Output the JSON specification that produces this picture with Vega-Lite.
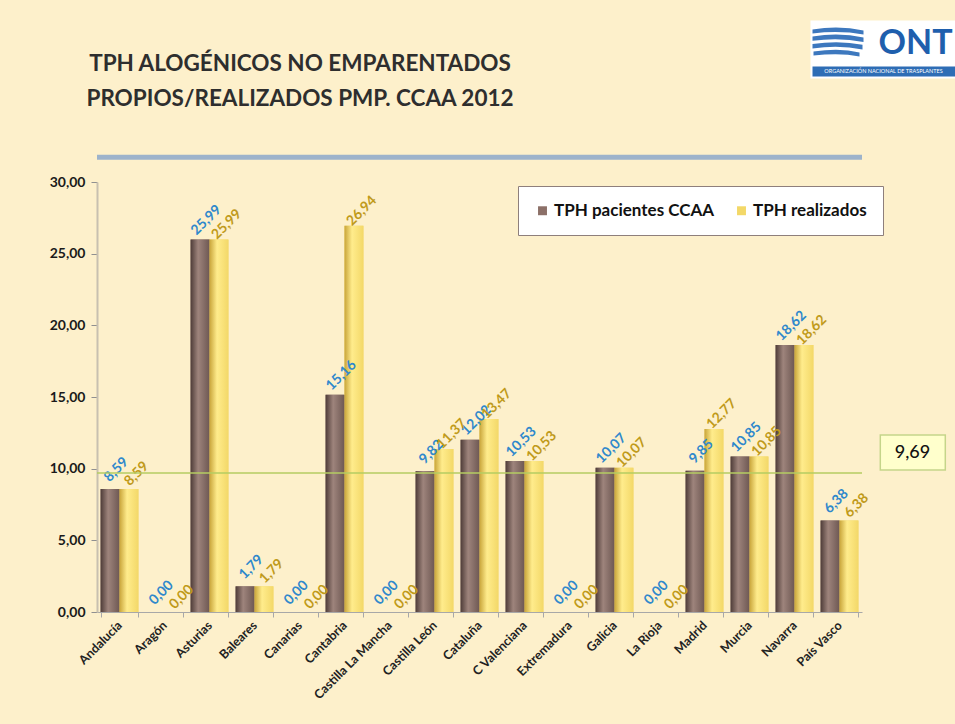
{
  "$schema": "https://vega.github.io/schema/vega-lite/v6.json",
  "width": 765,
  "height": 430,
  "autosize": "none",
  "padding": {"left": 97, "top": 182, "right": 93, "bottom": 112},
  "background": "#FDF0CB",
  "config": {
    "locale": {"number": {"decimal": ",", "thousands": ".", "grouping": [3], "currency": ["", " €"]}},
    "view": {"stroke": null},
    "font": "Lato"
  },
  "title": {
    "text": ["TPH ALOGÉNICOS NO EMPARENTADOS", "PROPIOS/REALIZADOS  PMP. CCAA 2012"],
    "anchor": "start",
    "frame": "group",
    "align": "center",
    "dx": 203,
    "fontSize": 22.5,
    "font": "Lato",
    "fontWeight": "bold",
    "color": "#2E2E2E",
    "lineHeight": 35,
    "offset": -90
  },
  "datasets": {
    "bars": [
      {"ccaa": "Andalucía", "serie": "TPH pacientes CCAA", "valor": 8.59},
      {"ccaa": "Andalucía", "serie": "TPH realizados", "valor": 8.59},
      {"ccaa": "Aragón", "serie": "TPH pacientes CCAA", "valor": 0},
      {"ccaa": "Aragón", "serie": "TPH realizados", "valor": 0},
      {"ccaa": "Asturias", "serie": "TPH pacientes CCAA", "valor": 25.99},
      {"ccaa": "Asturias", "serie": "TPH realizados", "valor": 25.99},
      {"ccaa": "Baleares", "serie": "TPH pacientes CCAA", "valor": 1.79},
      {"ccaa": "Baleares", "serie": "TPH realizados", "valor": 1.79},
      {"ccaa": "Canarias", "serie": "TPH pacientes CCAA", "valor": 0},
      {"ccaa": "Canarias", "serie": "TPH realizados", "valor": 0},
      {"ccaa": "Cantabria", "serie": "TPH pacientes CCAA", "valor": 15.16},
      {"ccaa": "Cantabria", "serie": "TPH realizados", "valor": 26.94},
      {"ccaa": "Castilla La Mancha", "serie": "TPH pacientes CCAA", "valor": 0},
      {"ccaa": "Castilla La Mancha", "serie": "TPH realizados", "valor": 0},
      {"ccaa": "Castilla León", "serie": "TPH pacientes CCAA", "valor": 9.82},
      {"ccaa": "Castilla León", "serie": "TPH realizados", "valor": 11.37},
      {"ccaa": "Cataluña", "serie": "TPH pacientes CCAA", "valor": 12.02},
      {"ccaa": "Cataluña", "serie": "TPH realizados", "valor": 13.47},
      {"ccaa": "C Valenciana", "serie": "TPH pacientes CCAA", "valor": 10.53},
      {"ccaa": "C Valenciana", "serie": "TPH realizados", "valor": 10.53},
      {"ccaa": "Extremadura", "serie": "TPH pacientes CCAA", "valor": 0},
      {"ccaa": "Extremadura", "serie": "TPH realizados", "valor": 0},
      {"ccaa": "Galicia", "serie": "TPH pacientes CCAA", "valor": 10.07},
      {"ccaa": "Galicia", "serie": "TPH realizados", "valor": 10.07},
      {"ccaa": "La Rioja", "serie": "TPH pacientes CCAA", "valor": 0},
      {"ccaa": "La Rioja", "serie": "TPH realizados", "valor": 0},
      {"ccaa": "Madrid", "serie": "TPH pacientes CCAA", "valor": 9.85},
      {"ccaa": "Madrid", "serie": "TPH realizados", "valor": 12.77},
      {"ccaa": "Murcia", "serie": "TPH pacientes CCAA", "valor": 10.85},
      {"ccaa": "Murcia", "serie": "TPH realizados", "valor": 10.85},
      {"ccaa": "Navarra", "serie": "TPH pacientes CCAA", "valor": 18.62},
      {"ccaa": "Navarra", "serie": "TPH realizados", "valor": 18.62},
      {"ccaa": "País Vasco", "serie": "TPH pacientes CCAA", "valor": 6.38},
      {"ccaa": "País Vasco", "serie": "TPH realizados", "valor": 6.38}
    ],
    "media": [{"etiqueta": "9,69", "valor": 9.69}],
    "logo": [{"sigla": "ONT", "nombre": "ORGANIZACIÓN NACIONAL DE TRASPLANTES"}]
  },
  "data": {"name": "bars"},
  "layer": [
    {
      "data": {"name": "logo"},
      "mark": {"type": "rule", "color": "#9DB3CB", "strokeWidth": 5},
      "encoding": {"y": {"datum": 31.73, "type": "quantitative"}}
    },
    {
      "mark": {"type": "bar"},
      "encoding": {
        "x": {
          "field": "ccaa", "type": "nominal", "sort": null,
          "scale": {"paddingInner": 0.16, "paddingOuter": 0.08},
          "axis": {
            "title": null, "labelAngle": -45, "labelAlign": "right", "labelBaseline": "middle",
            "labelFontSize": 12.5, "labelFontWeight": "bold", "labelColor": "#222222",
            "tickBand": "extent", "domainColor": "#A8A8A8", "tickColor": "#A8A8A8",
            "tickSize": 5, "labelPadding": 6
          }
        },
        "xOffset": {"field": "serie", "type": "nominal", "scale": {"paddingInner": 0, "paddingOuter": 0}},
        "y": {
          "field": "valor", "type": "quantitative",
          "scale": {"domain": [0, 30], "nice": false},
          "axis": {
            "title": null, "values": [0, 5, 10, 15, 20, 25, 30], "format": ".2f",
            "labelFontSize": 14, "labelFontWeight": "bold", "labelColor": "#1A1A1A",
            "grid": false, "domainColor": "#C8C0B0", "domainWidth": 2,
            "tickColor": "#909090", "tickSize": 6, "labelPadding": 6
          }
        },
        "color": {
          "field": "serie", "type": "nominal",
          "scale": {
            "domain": ["TPH pacientes CCAA", "TPH realizados"],
            "range": ["#8C7068", "#F3D868"]
          },
          "legend": {
            "orient": "none", "legendX": 421, "legendY": 4, "direction": "horizontal",
            "title": null, "fillColor": "#FFFFFF", "strokeColor": "#8E7F7C",
            "padding": 16, "labelFontSize": 17, "labelFont": "Lato", "labelFontWeight": "bold",
            "labelColor": "#111111", "labelLimit": 400, "symbolType": "square", "symbolSize": 80,
            "columnPadding": 18, "labelOffset": 3, "symbolStrokeWidth": 0
          }
        }
      }
    },
    {
      "transform": [{"filter": "datum.serie == 'TPH pacientes CCAA'"}],
      "mark": {"type": "bar", "fill": {"gradient": "linear", "x1": 0, "y1": 0, "x2": 1, "y2": 0,
               "stops": [{"offset": 0, "color": "#4E3C38"}, {"offset": 0.4, "color": "#9E847C"}, {"offset": 1, "color": "#6E5853"}]}},
      "encoding": {
        "x": {"field": "ccaa", "type": "nominal", "sort": null},
        "xOffset": {"field": "serie", "type": "nominal"},
        "y": {"field": "valor", "type": "quantitative"}
      }
    },
    {
      "transform": [{"filter": "datum.serie == 'TPH realizados'"}],
      "mark": {"type": "bar", "fill": {"gradient": "linear", "x1": 0, "y1": 0, "x2": 1, "y2": 0,
               "stops": [{"offset": 0, "color": "#C9A53A"}, {"offset": 0.4, "color": "#FFEC8C"}, {"offset": 1, "color": "#F3D868"}]}},
      "encoding": {
        "x": {"field": "ccaa", "type": "nominal", "sort": null},
        "xOffset": {"field": "serie", "type": "nominal"},
        "y": {"field": "valor", "type": "quantitative"}
      }
    },
    {
      "transform": [{"filter": "datum.serie == 'TPH pacientes CCAA'"}],
      "mark": {"type": "text", "angle": 315, "align": "center", "baseline": "middle", "dx": 18, "dy": -9,
               "fontSize": 14, "fontWeight": "bold", "color": "#2F88CC"},
      "encoding": {
        "x": {"field": "ccaa", "type": "nominal", "sort": null},
        "xOffset": {"field": "serie", "type": "nominal"},
        "y": {"field": "valor", "type": "quantitative"},
        "text": {"field": "valor", "type": "quantitative", "format": ".2f"}
      }
    },
    {
      "transform": [{"filter": "datum.serie == 'TPH realizados'"}],
      "mark": {"type": "text", "angle": 315, "align": "center", "baseline": "middle", "dx": 16, "dy": -5,
               "fontSize": 14, "fontWeight": "bold", "color": "#C09A1A"},
      "encoding": {
        "x": {"field": "ccaa", "type": "nominal", "sort": null},
        "xOffset": {"field": "serie", "type": "nominal"},
        "y": {"field": "valor", "type": "quantitative"},
        "text": {"field": "valor", "type": "quantitative", "format": ".2f"}
      }
    },
    {
      "data": {"name": "media"},
      "mark": {"type": "rule", "color": "#B5CC62", "strokeWidth": 1.5},
      "encoding": {"y": {"field": "valor", "type": "quantitative"}}
    },
    {
      "data": {"name": "media"},
      "mark": {"type": "point", "filled": true, "shape": "M2.04,-1.9L5.29,-1.9L5.29,-0.15L2.04,-0.15Z",
               "size": 1600, "fill": "#FFFFCC", "stroke": "#C5D58A", "strokeWidth": 1.5, "opacity": 1},
      "encoding": {
        "x": {"datum": "País Vasco", "type": "nominal"},
        "y": {"field": "valor", "type": "quantitative"}
      }
    },
    {
      "data": {"name": "media"},
      "mark": {"type": "text", "dx": 73, "dy": -20, "align": "center", "baseline": "middle",
               "fontSize": 18, "fontWeight": 500, "color": "#111111"},
      "encoding": {
        "x": {"datum": "País Vasco", "type": "nominal"},
        "y": {"field": "valor", "type": "quantitative"},
        "text": {"field": "etiqueta"}
      }
    },
    {
      "data": {"name": "logo"},
      "mark": {"type": "point", "filled": true,
               "shape": "M-1.45,-1.2L5.9,-1.2L5.9,1.7L-1.45,1.7Z",
               "size": 1600, "fill": "#FFFFFF", "strokeWidth": 0, "opacity": 1},
      "encoding": {
        "x": {"datum": "País Vasco", "type": "nominal"},
        "y": {"datum": 39.6, "type": "quantitative"}
      }
    },
    {
      "data": {"name": "logo"},
      "mark": {"type": "point", "filled": true,
               "shape": "M-1.35,1.1L5.9,1.1L5.9,1.6L-1.35,1.6Z",
               "size": 1600, "fill": "#2E6DB5", "strokeWidth": 0, "opacity": 1},
      "encoding": {
        "x": {"datum": "País Vasco", "type": "nominal"},
        "y": {"datum": 39.6, "type": "quantitative"}
      }
    },
    {
      "data": {"name": "logo"},
      "mark": {"type": "point", "filled": true,
               "shape": "M-1.35,-0.75Q0,-0.95 1.2,-0.7L1.2,-0.5Q0,-0.72 -1.35,-0.55Z M-1.35,-0.4Q0,-0.6 1.2,-0.35L1.2,-0.12Q0,-0.36 -1.35,-0.18Z M-1.35,-0.02Q0,-0.22 1.15,0.02L1.15,0.25Q0,0.02 -1.35,0.2Z M-1.3,0.36Q0,0.16 1.0,0.4L1.0,0.6Q0,0.4 -1.3,0.56Z",
               "size": 1600, "fill": "#3D78BE", "strokeWidth": 0, "opacity": 1},
      "encoding": {
        "x": {"datum": "País Vasco", "type": "nominal"},
        "y": {"datum": 39.6, "type": "quantitative"}
      }
    },
    {
      "data": {"name": "logo"},
      "mark": {"type": "text", "dx": 76, "align": "center", "baseline": "middle",
               "fontSize": 34, "fontWeight": "bold", "color": "#1F5FAD"},
      "encoding": {
        "x": {"datum": "País Vasco", "type": "nominal"},
        "y": {"datum": 39.6, "type": "quantitative"},
        "text": {"field": "sigla"}
      }
    },
    {
      "data": {"name": "logo"},
      "mark": {"type": "text", "dx": 44, "dy": 27, "align": "center", "baseline": "middle",
               "fontSize": 5.5, "color": "#FFFFFF"},
      "encoding": {
        "x": {"datum": "País Vasco", "type": "nominal"},
        "y": {"datum": 39.6, "type": "quantitative"},
        "text": {"field": "nombre"}
      }
    }
  ]
}
